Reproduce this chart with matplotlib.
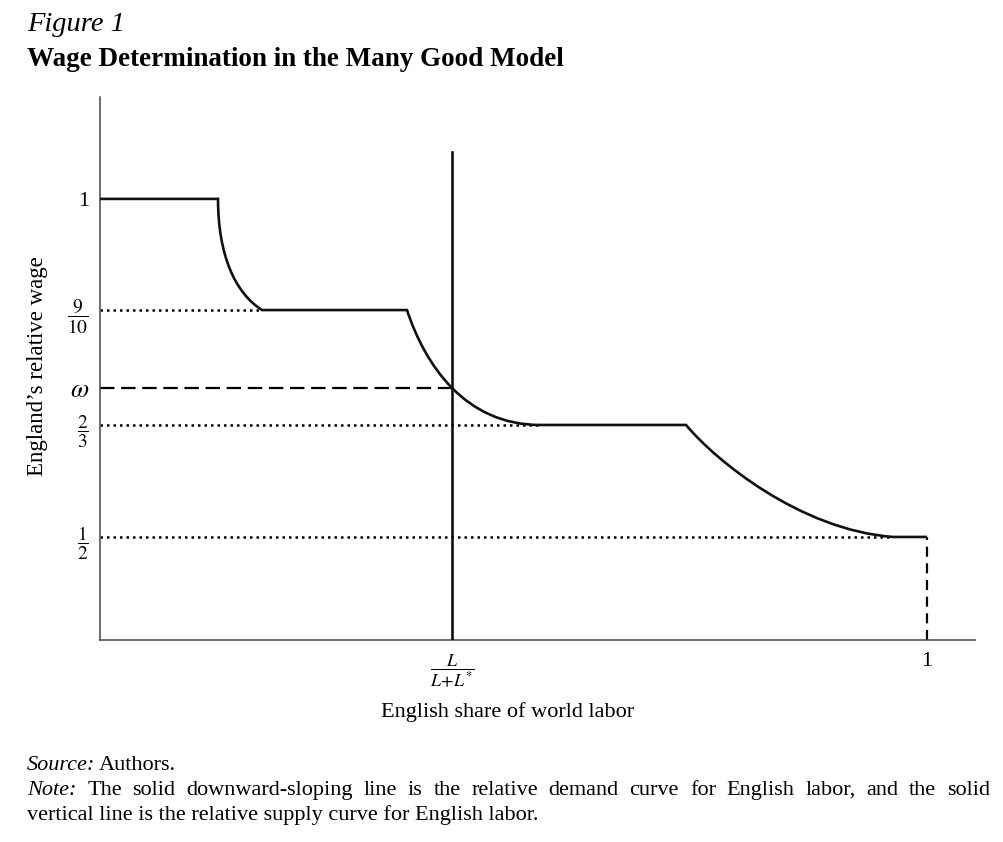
import matplotlib
matplotlib.use('Agg')
import matplotlib.pyplot as plt
from matplotlib.path import Path
from matplotlib.patches import PathPatch

plt.rcParams['font.family'] = 'serif'
plt.rcParams['font.serif'] = ['Liberation Serif', 'DejaVu Serif']
plt.rcParams['mathtext.fontset'] = 'stix'

# schematic values
# x: English share of world labor (1 = all labor), y: relative wage scale (1 = top step)
wage_levels = [1.0, 0.748, 0.571, 0.4875, 0.2336]
wage_labels = ['1', r'$\dfrac{9}{10}$', r'$\omega$', r'$\dfrac{2}{3}$', r'$\dfrac{1}{2}$']
share_ticks = [0.4256, 1.0]
share_labels = [r'$\dfrac{L}{L\!+\!L^{*}}$', '1']
supply_share = 0.4256
supply_top = 1.107
omega = 0.571

# relative demand curve: flat steps joined by curved pieces (bezier control points)
demand_x = [0.0, 0.1427, 0.1427, 0.1632, 0.1959, 0.3712, 0.393, 0.4414, 0.532,
            0.7086, 0.7437, 0.8464, 0.9589, 1.0]
demand_y = [1.0, 1.0, 0.873, 0.7868, 0.748, 0.748, 0.6236, 0.4875, 0.4875,
            0.4875, 0.4082, 0.2494, 0.2336, 0.2336]
demand_codes = [Path.MOVETO, Path.LINETO, Path.CURVE4, Path.CURVE4, Path.CURVE4,
                Path.LINETO, Path.CURVE4, Path.CURVE4, Path.CURVE4,
                Path.LINETO, Path.CURVE4, Path.CURVE4, Path.CURVE4, Path.LINETO]

# dotted guides run from the axis to where each step begins
guide_levels = [0.748, 0.4875, 0.2336]
guide_ends = [0.1959, 0.532, 0.9589]

fig = plt.figure(figsize=(10.04, 8.42), dpi=100)
ax = fig.add_axes([100/1004, 1-640/842, 875/1004, 543/842])
ax.set_xlim(0, 1.058)
ax.set_ylim(0, 1.231)

for s in ['top', 'right']:
    ax.spines[s].set_visible(False)
for s in ['left', 'bottom']:
    ax.spines[s].set_color('#444444')
    ax.spines[s].set_linewidth(1.1)

# dotted guides
for lev, xe in zip(guide_levels, guide_ends):
    ax.plot([0, xe], [lev, lev], color='black', lw=1.8, linestyle=(0, (1, 1.6)),
            dash_capstyle='butt', zorder=2)
# omega dashed line
ax.plot([0, supply_share], [omega, omega], color='black', lw=1.6,
        linestyle=(0, (6.5, 3)), zorder=2)
# dashed drop at x = 1
ax.plot([1.0, 1.0], [0, demand_y[-1]], color='black', lw=1.6,
        linestyle=(0, (4.5, 3)), zorder=2)

# demand curve
path = Path(list(zip(demand_x, demand_y)), demand_codes)
ax.add_patch(PathPatch(path, facecolor='none', edgecolor='#111111', lw=1.9,
                       joinstyle='miter', zorder=3))

# vertical supply line
ax.plot([supply_share, supply_share], [0, supply_top], color='#111111', lw=1.9, zorder=3)

ax.set_yticks(wage_levels)
ax.set_yticklabels(wage_labels, fontsize=14)
ax.get_yticklabels()[0].set_fontsize(16)
ax.get_yticklabels()[2].set_fontsize(19)
ax.set_xticks(share_ticks)
ax.set_xticklabels(share_labels, fontsize=13)
ax.get_xticklabels()[1].set_fontsize(16)
ax.tick_params(axis='y', length=0, pad=8)
ax.tick_params(axis='x', length=0, pad=9)

fig.text(38/1004, 1-366/842, 'England\u2019s relative wage', rotation=90,
         ha='center', va='center', fontsize=16.5)
fig.text(508/1004, 1-712/842, 'English share of world labor', ha='center',
         va='center', fontsize=16)

fig.text(27/1004, 1-31/842, 'Figure 1', style='italic', fontsize=20.5, va='baseline')
fig.text(27/1004, 1-66/842, 'Wage Determination in the Many Good Model',
         fontweight='bold', fontsize=19.5, va='baseline')

renderer = fig.canvas.get_renderer()
src = fig.text(27/1004, 1-770/842, 'Source:', style='italic', fontsize=16, va='baseline')
src_w = src.get_window_extent(renderer).width
fig.text((27 + src_w + 4)/1004, 1-770/842, 'Authors.', fontsize=16, va='baseline')

# justified first note line
words = ['Note:', 'The', 'solid', 'downward-sloping', 'line', 'is', 'the', 'relative',
         'demand', 'curve', 'for', 'English', 'labor,', 'and', 'the', 'solid']
texts = []
for i, w in enumerate(words):
    t = fig.text(0, 1-795/842, w, fontsize=16, va='baseline',
                 style='italic' if i == 0 else 'normal')
    texts.append(t)
widths = [t.get_window_extent(renderer).width for t in texts]
left, right = 27, 990
gap = (right - left - sum(widths)) / (len(words) - 1)
xpos = left
for t, wd in zip(texts, widths):
    t.set_x(xpos / 1004)
    xpos += wd + gap

fig.text(27/1004, 1-820/842, 'vertical line is the relative supply curve for English labor.',
         fontsize=16, va='baseline')

fig.savefig('out.png', dpi=100)
